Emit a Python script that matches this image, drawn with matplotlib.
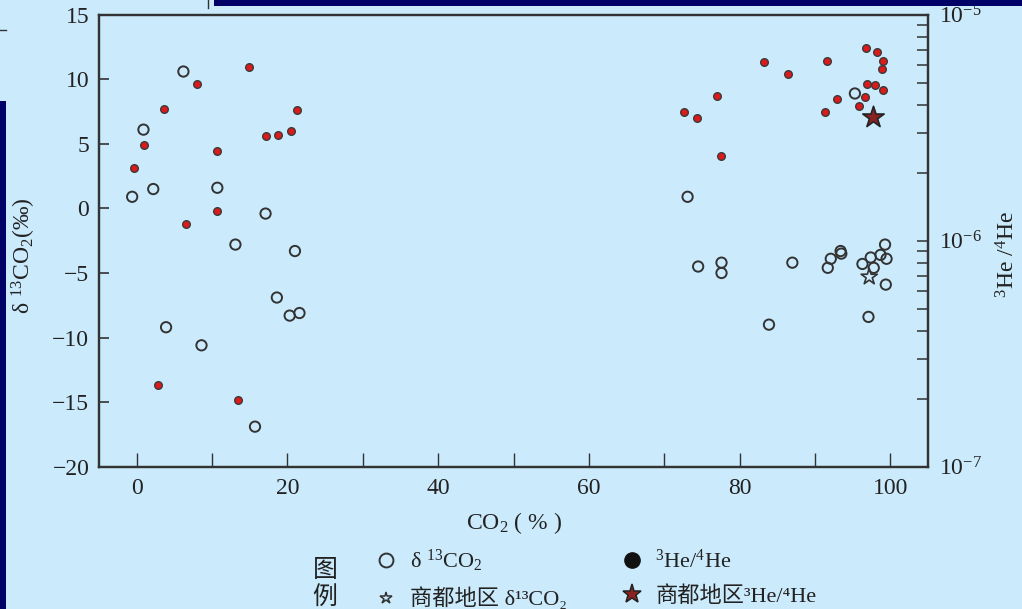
import numpy as np
import matplotlib
matplotlib.use("Agg")
import matplotlib.pyplot as plt
from matplotlib.lines import Line2D
from matplotlib.patches import Rectangle

plt.rcParams['font.family'] = ['Liberation Serif', 'Noto Sans CJK SC', 'DejaVu Serif']
plt.rcParams['mathtext.fontset'] = 'custom'
plt.rcParams['mathtext.rm'] = 'Liberation Serif'
plt.rcParams['mathtext.it'] = 'Liberation Serif:italic'
plt.rcParams['axes.unicode_minus'] = True

# delta 13C of CO2 (open circles, left axis)
co2_d13c = [-0.6, 0.9, 2.2, 6.2, 10.7, 17.1, 13.1, 21.0, 3.9, 8.6, 18.6, 20.3, 21.6, 15.7,
            73.1, 74.5, 77.6, 77.6, 87.0, 83.9, 92.1, 91.7, 93.4, 93.5, 96.3, 97.4, 97.8,
            98.7, 99.3, 99.5, 99.4, 97.1, 95.3]
d13c = [0.9, 6.1, 1.5, 10.6, 1.6, -0.4, -2.8, -3.3, -9.2, -10.6, -6.9, -8.3, -8.1, -16.9,
        0.9, -4.5, -4.2, -5.0, -4.2, -9.0, -3.9, -4.6, -3.3, -3.5, -4.3, -3.8, -4.6,
        -3.6, -2.8, -3.9, -5.9, -8.4, 8.9]

# 3He/4He (red dots, right log axis)
co2_he = [14.9, 8.0, 3.6, 1.0, -0.4, 10.7, 21.3, 17.1, 18.7, 20.5, 10.7, 6.5, 2.8, 13.4,
          72.6, 74.4, 77.0, 77.5, 83.3, 86.4, 91.6, 91.3, 92.9, 95.8, 96.6, 96.9, 98.0,
          99.0, 96.8, 98.2, 99.0, 98.9]
he_ratio = [5.89e-6, 4.92e-6, 3.81e-6, 2.66e-6, 2.10e-6, 2.49e-6, 3.78e-6, 2.92e-6,
            2.94e-6, 3.05e-6, 1.36e-6, 1.19e-6, 2.30e-7, 1.97e-7,
            3.72e-6, 3.49e-6, 4.36e-6, 2.38e-6, 6.18e-6, 5.45e-6, 6.25e-6, 3.72e-6,
            4.25e-6, 3.94e-6, 4.31e-6, 4.92e-6, 4.88e-6, 4.66e-6, 7.13e-6, 6.84e-6,
            6.25e-6, 5.73e-6]

# Shangdu area samples (stars)
sd_co2_d13c = [97.2]
sd_d13c = [-5.3]
sd_co2_he = [97.7]
sd_he = [3.54e-6]

bg = '#cbebfd'
edge = '#333333'
txt = '#222222'

fig = plt.figure(figsize=(10.22, 6.09), dpi=100, facecolor=bg)
ax = fig.add_axes([99/1022, 1 - 466.7/609, 829/1022, 452/609])
ax.set_facecolor(bg)

ax.scatter(co2_d13c, d13c, s=55, facecolors='none', edgecolors=edge, linewidths=1.4, zorder=3)
ax.scatter(sd_co2_d13c, sd_d13c, s=150, marker='*', facecolors='none', edgecolors=edge,
           linewidths=1.2, zorder=3)

ax.set_xlim(-5, 105)
ax.set_ylim(-20, 15)
ax.set_xticks(range(0, 101, 10))
ax.set_xticklabels([str(v) if v % 20 == 0 else '' for v in range(0, 101, 10)])
ax.set_yticks(range(-20, 16, 5))
ax.tick_params(axis='x', direction='in', length=10, width=1.0, pad=8, labelsize=17,
               colors=edge, labelcolor=txt)
ax.tick_params(axis='y', direction='in', length=7, width=1.2, pad=7, labelsize=17,
               colors=edge, labelcolor=txt)
for sp in ax.spines.values():
    sp.set_color(edge)
    sp.set_linewidth(1.6)

ax.set_xlabel('CO$_2$ ( % )', fontsize=17, labelpad=8, color=txt)
ax.set_ylabel('δ $^{13}$CO$_2$(‰)', fontsize=17, color=txt)
ax.yaxis.set_label_coords(-0.073, 0.467)

ax2 = ax.twinx()
ax2.set_yscale('log')
ax2.set_ylim(1e-7, 1e-5)
ax2.scatter(co2_he, he_ratio, s=30, color='#dd1a1a', edgecolors='#3a3a3a', linewidths=1.0,
            zorder=4)
ax2.scatter(sd_co2_he, sd_he, s=260, marker='*', color='#8a2222', edgecolors='#222222',
            linewidths=1.2, zorder=5)
ax2.tick_params(axis='y', which='both', direction='in', length=8, width=1.1, pad=8,
                labelsize=17, colors=edge, labelcolor=txt)
for sp in ax2.spines.values():
    sp.set_color(edge)
    sp.set_linewidth(1.6)
fig.text(1008/1022, 1 - 255/609, '$^3$He /$^4$He', rotation=90, ha='center', va='center',
         fontsize=17, color=txt)

# legend
handles = [
    Line2D([], [], marker='o', ls='none', ms=10, mfc='none', mec=edge, mew=1.4),
    Line2D([], [], marker='*', ls='none', ms=9, mfc='none', mec=edge, mew=1.1),
    Line2D([], [], marker='o', ls='none', ms=11, mfc='#111111', mec='#111111'),
    Line2D([], [], marker='*', ls='none', ms=14, mfc='#8a2222', mec='#222222', mew=1.1),
]
labels = ['δ $^{13}$CO$_2$', '商都地区 δ¹³CO₂', '$^3$He/$^4$He', '商都地区³He/⁴He']
leg = ax.legend(handles, labels, ncol=2, loc='upper left', frameon=False,
                bbox_to_anchor=(374/1022, 1 - 548/609), bbox_transform=fig.transFigure,
                fontsize=16, handlelength=1.1, handletextpad=0.5, columnspacing=2.4,
                labelspacing=0.6, borderpad=0, borderaxespad=0)
for t in leg.get_texts():
    t.set_color(txt)
fig.text(325/1022, 1 - 585/609, '图\n例', ha='center', va='center', fontsize=18,
         linespacing=1.25, color=txt)

# slide decorations
fig.add_artist(Rectangle((214/1022, 1 - 6/609), 808/1022, 6/609, transform=fig.transFigure,
                         color='#000066', lw=0))
fig.add_artist(Rectangle((0, 0), 6/1022, 1 - 101/609, transform=fig.transFigure,
                         color='#000066', lw=0))
fig.add_artist(Line2D([0, 6/1022], [1 - 30/609, 1 - 30/609], transform=fig.transFigure,
                      color='#333333', lw=1))
fig.add_artist(Line2D([208/1022, 208/1022], [1, 1 - 8/609], transform=fig.transFigure,
                      color='#333333', lw=1))

fig.savefig('out.png', dpi=100, facecolor=bg)
